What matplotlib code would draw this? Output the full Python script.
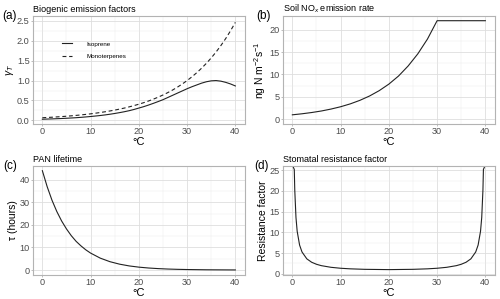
import matplotlib.pyplot as plt
import numpy as np

plt.rcParams["font.family"] = ["Liberation Sans", "DejaVu Sans"]
plt.rcParams["mathtext.fontset"] = "custom"
plt.rcParams["mathtext.rm"] = "Liberation Sans"
plt.rcParams["mathtext.it"] = "Liberation Sans:italic"

# --- dati ---
t_bio = list(range(0, 41))
isoprene = [0.030, 0.034, 0.038, 0.043, 0.048, 0.054, 0.061, 0.068, 0.077, 0.087,
            0.098, 0.110, 0.123, 0.138, 0.155, 0.174, 0.195, 0.218, 0.244, 0.275,
            0.310, 0.345, 0.385, 0.428, 0.473, 0.520, 0.575, 0.630, 0.685, 0.740,
            0.795, 0.845, 0.890, 0.935, 0.970, 0.993, 1.000, 0.985, 0.955, 0.915,
            0.865]
monoterpenes = [0.067, 0.074, 0.080, 0.088, 0.096, 0.105, 0.115, 0.126, 0.138, 0.151,
                0.165, 0.181, 0.198, 0.217, 0.237, 0.259, 0.284, 0.310, 0.340, 0.372,
                0.407, 0.445, 0.487, 0.533, 0.583, 0.638, 0.698, 0.763, 0.835, 0.914,
                1.000, 1.094, 1.197, 1.310, 1.433, 1.568, 1.716, 1.878, 2.054, 2.248,
                2.460]

t_nox = [0, 2, 4, 6, 8, 10, 12, 14, 16, 18, 20, 22, 24, 26, 28, 30, 40]
soil_nox = [1.0, 1.23, 1.51, 1.85, 2.28, 2.80, 3.44, 4.23, 5.20, 6.39, 7.85, 9.65,
            11.9, 14.6, 17.9, 22.0, 22.0]

t_pan = [0, 1, 2, 3, 4, 5, 6, 7, 8, 9, 10, 12, 14, 16, 18, 20, 22, 24, 26, 28, 30, 34, 40]
pan_life = [44.0, 36.9, 30.9, 25.9, 21.7, 18.2, 15.2, 12.7, 10.7, 8.95, 7.5, 5.27,
            3.70, 2.60, 1.82, 1.28, 0.90, 0.63, 0.44, 0.31, 0.22, 0.11, 0.04]

t_sto = [0.1, 0.4, 0.5, 0.75, 1, 1.5, 2, 3, 4, 5, 6, 8, 10, 12, 15, 20, 25, 28, 30,
         32, 34, 35, 36, 37, 38, 38.5, 39, 39.25, 39.5, 39.6, 39.9]
stomatal = [26.0, 25.2, 20.25, 13.6, 10.26, 6.93, 5.26, 3.60, 2.78, 2.29, 1.96, 1.56,
            1.33, 1.19, 1.07, 1.0, 1.07, 1.19, 1.33, 1.56, 1.96, 2.29, 2.78, 3.60,
            5.26, 6.93, 10.26, 13.6, 20.25, 25.2, 26.0]

W, H = 500, 299
fig = plt.figure(figsize=(W / 100, H / 100), dpi=100)


def box(x0, x1, y0, y1):
    return [x0 / W, 1 - y1 / H, (x1 - x0) / W, (y1 - y0) / H]


ax_a = fig.add_axes(box(32.7, 245, 16, 124))
ax_b = fig.add_axes(box(282.7, 495, 16, 124))
ax_c = fig.add_axes(box(32.7, 245, 165.7, 275))
ax_d = fig.add_axes(box(282.7, 495, 165.7, 275))


def stile(ax, yticks, yminor, ylim, title, ylabel, tag, tag_x, fmt="{:g}"):
    ax.set_xlim(-2, 42)
    ax.set_ylim(*ylim)
    ax.set_xticks([0, 10, 20, 30, 40])
    ax.set_xticks([5, 15, 25, 35], minor=True)
    ax.set_yticks(yticks)
    ax.set_yticklabels([fmt.format(v) for v in yticks])
    ax.set_yticks(yminor, minor=True)
    ax.grid(which="major", color="#DEDEDE", lw=0.6)
    ax.grid(which="minor", color="#EBEBEB", lw=0.35)
    ax.set_axisbelow(True)
    for s in ax.spines.values():
        s.set_color("#B3B3B3")
        s.set_linewidth(0.8)
    ax.tick_params(which="major", length=1.6, width=0.6, color="#B3B3B3",
                   labelsize=6.6, labelcolor="#4D4D4D", pad=0.6)
    ax.tick_params(which="minor", length=0)
    ax.set_xlabel("°C", fontsize=8, labelpad=0.5)
    ax.set_ylabel(ylabel, fontsize=7.5, labelpad=1)
    ax.set_title(title, loc="left", fontsize=6.5, pad=3)
    pos = ax.get_position()
    fig.text(tag_x / W, pos.y1, tag, fontsize=8.5, ha="left", va="center")


# (a)
ax_a.plot(t_bio, isoprene, color="#222222", lw=0.8, label="Isoprene")
ax_a.plot(t_bio, monoterpenes, color="#222222", lw=0.8, ls=(0, (3.5, 2.5)),
          label="Monoterpenes")
stile(ax_a, [0.0, 0.5, 1.0, 1.5, 2.0, 2.5], [0.25, 0.75, 1.25, 1.75, 2.25],
      (-0.09, 2.62), "Biogenic emission factors", r"$\gamma_T$", "(a)", 2.5,
      "{:.1f}")
ax_a.legend(frameon=False, loc="center left", bbox_to_anchor=(0.113, 0.685),
            fontsize=4.5, handlelength=1.6, handletextpad=2.2, labelspacing=1.1)

# (b)
ax_b.plot(t_nox, soil_nox, color="#222222", lw=0.8)
stile(ax_b, [0, 5, 10, 15, 20], [2.5, 7.5, 12.5, 17.5],
      (-1.05, 23.05), r"Soil NO$_x$ emission rate",
      r"ng N m$^{-2}$s$^{-1}$", "(b)", 256)

# (c)
ax_c.plot(t_pan, pan_life, color="#222222", lw=0.8)
stile(ax_c, [0, 10, 20, 30, 40], [5, 15, 25, 35],
      (-2.2, 46.2), "PAN lifetime", "τ (hours)", "(c)", 3.5)

# (d)
ax_d.plot(t_sto, stomatal, color="#222222", lw=0.8)
stile(ax_d, [0, 5, 10, 15, 20, 25], [2.5, 7.5, 12.5, 17.5, 22.5],
      (-0.3, 26.1), "Stomatal resistance factor", "Resistance factor", "(d)", 254)

plt.savefig("out.png", dpi=100)
